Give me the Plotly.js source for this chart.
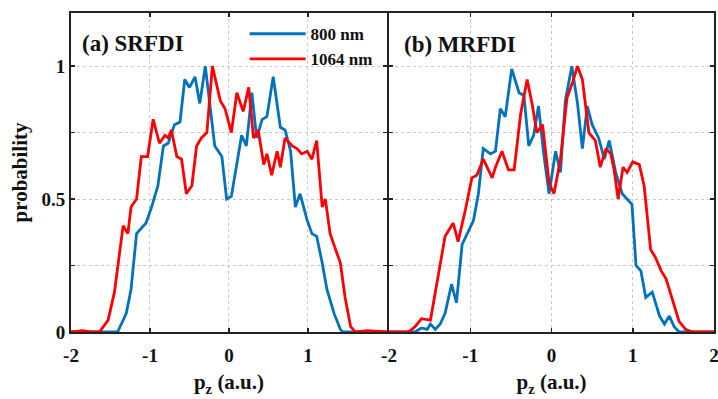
<!DOCTYPE html>
<html>
<head>
<meta charset="utf-8">
<script src="https://cdn.plot.ly/plotly-3.0.1.min.js"></script>
<style>
  html, body { margin: 0; padding: 0; background: #fff; }
  #chart { width: 718px; height: 399px; }
</style>
</head>
<body>
<div id="chart"></div>
<script>
// (a) SRFDI — momentum distributions p_z (a.u.)
const srfdiX800 = [-2, -1.60, -1.41, -1.30, -1.24, -1.17, -1.05, -0.98, -0.90, -0.83, -0.77, -0.69, -0.62, -0.56, -0.50, -0.43, -0.37, -0.30, -0.18, -0.09, -0.03, 0.03, 0.16, 0.22, 0.29, 0.35, 0.42, 0.48, 0.56, 0.65, 0.71, 0.78, 0.84, 0.90, 0.99, 1.05, 1.11, 1.18, 1.24, 1.33, 1.41, 1.44, 1.6, 2];
const srfdiY800 = [0, 0, 0, 0.07, 0.16, 0.37, 0.41, 0.47, 0.55, 0.70, 0.71, 0.78, 0.79, 0.95, 0.92, 0.96, 0.86, 1.0, 0.70, 0.66, 0.50, 0.51, 0.74, 0.70, 0.90, 0.73, 0.80, 0.81, 0.96, 0.77, 0.76, 0.68, 0.47, 0.52, 0.42, 0.37, 0.36, 0.26, 0.16, 0.07, 0.01, 0, 0, 0];
const srfdiX1064 = [-2, -1.85, -1.75, -1.64, -1.53, -1.45, -1.34, -1.28, -1.24, -1.17, -1.11, -1.03, -0.96, -0.88, -0.81, -0.77, -0.73, -0.66, -0.60, -0.54, -0.47, -0.41, -0.35, -0.28, -0.21, -0.11, -0.05, 0.03, 0.10, 0.18, 0.25, 0.31, 0.37, 0.44, 0.48, 0.54, 0.61, 0.65, 0.71, 0.80, 0.86, 0.92, 0.99, 1.05, 1.11, 1.18, 1.22, 1.28, 1.35, 1.41, 1.47, 1.54, 1.60, 1.75, 2];
const srfdiY1064 = [0, 0.005, 0, 0, 0.045, 0.15, 0.40, 0.37, 0.47, 0.50, 0.66, 0.66, 0.80, 0.71, 0.74, 0.73, 0.76, 0.66, 0.65, 0.52, 0.55, 0.70, 0.73, 0.75, 1.0, 0.87, 0.84, 0.75, 0.90, 0.83, 0.92, 0.73, 0.76, 0.63, 0.67, 0.59, 0.68, 0.62, 0.73, 0.70, 0.69, 0.67, 0.68, 0.65, 0.72, 0.47, 0.50, 0.37, 0.31, 0.26, 0.13, 0.02, 0, 0.005, 0];

// (b) MRFDI
const mrfdiX800 = [-2, -1.75, -1.68, -1.60, -1.53, -1.49, -1.43, -1.37, -1.31, -1.23, -1.17, -1.10, -1.04, -0.96, -0.90, -0.84, -0.75, -0.69, -0.63, -0.57, -0.49, -0.40, -0.34, -0.28, -0.22, -0.16, -0.10, -0.03, 0.05, 0.11, 0.17, 0.25, 0.32, 0.38, 0.44, 0.50, 0.58, 0.65, 0.71, 0.79, 0.87, 0.93, 0.99, 1.04, 1.10, 1.16, 1.24, 1.33, 1.39, 1.45, 1.51, 1.57, 1.7, 2];
const mrfdiY800 = [0, 0, 0, 0.015, 0.01, 0.03, 0.01, 0.03, 0.07, 0.18, 0.11, 0.33, 0.37, 0.42, 0.52, 0.69, 0.67, 0.68, 0.84, 0.81, 0.99, 0.90, 0.89, 0.70, 0.74, 0.85, 0.68, 0.52, 0.68, 0.60, 0.87, 1.0, 0.86, 0.69, 0.85, 0.78, 0.73, 0.65, 0.72, 0.60, 0.52, 0.50, 0.48, 0.25, 0.23, 0.13, 0.15, 0.06, 0.03, 0.06, 0.02, 0, 0, 0];
const mrfdiX1064 = [-2, -1.76, -1.68, -1.60, -1.49, -1.43, -1.37, -1.31, -1.21, -1.15, -1.06, -0.98, -0.92, -0.84, -0.73, -0.69, -0.61, -0.53, -0.46, -0.38, -0.30, -0.24, -0.18, -0.11, -0.03, 0.03, 0.11, 0.19, 0.26, 0.32, 0.38, 0.46, 0.54, 0.60, 0.67, 0.73, 0.77, 0.82, 0.88, 0.93, 1.00, 1.08, 1.14, 1.22, 1.28, 1.35, 1.41, 1.49, 1.57, 1.65, 1.73, 2];
const mrfdiY1064 = [0, 0, 0.02, 0.05, 0.045, 0.15, 0.27, 0.36, 0.41, 0.34, 0.46, 0.58, 0.59, 0.65, 0.58, 0.62, 0.68, 0.61, 0.61, 0.82, 0.95, 0.86, 0.75, 0.78, 0.56, 0.52, 0.65, 0.88, 0.94, 1.0, 0.95, 0.75, 0.72, 0.62, 0.69, 0.67, 0.61, 0.50, 0.62, 0.60, 0.64, 0.63, 0.55, 0.31, 0.28, 0.23, 0.20, 0.12, 0.04, 0.01, 0, 0];

// the shared edge at p_z = 2 / -2 is labelled once, by the right panel
const xTickVals = [-2, -1, 0, 1, 2];
const xTickTextA = ['-2', '-1', '0', '1', ''];
const xTickTextB = ['-2', '-1', '0', '1', '2'];
const yTickVals = [0, 0.25, 0.5, 0.75, 1];
const yTickText = ['0', '', '0.5', '', '1'];

const blue = '#0072BD';
const red = '#FF0000';
const serif = 'Liberation Serif, Times New Roman, serif';

const traces = [
  { x: srfdiX800, y: srfdiY800, name: '800 nm', mode: 'lines', line: { color: blue, width: 2.8 }, xaxis: 'x', yaxis: 'y' },
  { x: srfdiX1064, y: srfdiY1064, name: '1064 nm', mode: 'lines', line: { color: red, width: 2.8 }, xaxis: 'x', yaxis: 'y' },
  { x: mrfdiX800, y: mrfdiY800, name: '800 nm', mode: 'lines', line: { color: blue, width: 2.8 }, xaxis: 'x2', yaxis: 'y2', showlegend: false },
  { x: mrfdiX1064, y: mrfdiY1064, name: '1064 nm', mode: 'lines', line: { color: red, width: 2.8 }, xaxis: 'x2', yaxis: 'y2', showlegend: false }
];

function xAxis(domain, anchor, labels) {
  return {
    domain: domain, anchor: anchor, range: [-2, 2],
    tickmode: 'array', tickvals: xTickVals, ticktext: labels,
    ticks: 'inside', ticklen: 4, tickwidth: 1.5, tickcolor: '#222',
    showline: true, linecolor: '#222', linewidth: 2, mirror: 'ticks',
    showgrid: true, gridcolor: '#c8c8c8', gridwidth: 1, griddash: 'dot',
    zeroline: false, ticklabelstandoff: 5, ticklabeloverflow: 'allow',
    tickfont: { family: serif, size: 19, color: '#111', weight: 'bold' },
    title: { text: 'p<sub>z</sub> (a.u.)', font: { family: serif, size: 21, color: '#111', weight: 'bold' }, standoff: 10 }
  };
}
function yAxis(anchor, labels) {
  return {
    domain: [0, 1], anchor: anchor, range: [0, 1.2],
    tickmode: 'array', tickvals: yTickVals, ticktext: yTickText,
    showticklabels: labels,
    ticks: 'inside', ticklen: 4, tickwidth: 1.5, tickcolor: '#222',
    showline: true, linecolor: '#222', linewidth: 2, mirror: 'ticks',
    showgrid: true, gridcolor: '#c8c8c8', gridwidth: 1, griddash: 'dot',
    zeroline: false,
    tickfont: { family: serif, size: 19, color: '#111', weight: 'bold' }
  };
}

const layout = {
  width: 718, height: 399,
  margin: { l: 71, r: 4, t: 13, b: 67 },
  paper_bgcolor: '#fff', plot_bgcolor: '#fff',
  showlegend: true,
  legend: {
    x: 0.27, y: 0.99, xanchor: 'left', yanchor: 'top',
    bgcolor: 'rgba(0,0,0,0)', borderwidth: 0,
    font: { family: serif, size: 17, color: '#111', weight: 'bold' },
    itemwidth: 56, tracegroupgap: 0
  },
  xaxis: xAxis([0, 0.4914], 'y', xTickTextA),
  yaxis: Object.assign(yAxis('x', true), {
    title: { text: 'probability', font: { family: serif, size: 21, color: '#111', weight: 'bold' }, standoff: 8 }
  }),
  xaxis2: xAxis([0.4946, 1], 'y2', xTickTextB),
  yaxis2: yAxis('x2', false),
  annotations: [
    { text: '(a) SRFDI', xref: 'x domain', yref: 'y domain', x: 0.03, y: 0.905, xanchor: 'left', yanchor: 'middle', showarrow: false,
      font: { family: serif, size: 23, color: '#111', weight: 'bold' } },
    { text: '(b) MRFDI', xref: 'x2 domain', yref: 'y2 domain', x: 0.04, y: 0.9, xanchor: 'left', yanchor: 'middle', showarrow: false,
      font: { family: serif, size: 23, color: '#111', weight: 'bold' } }
  ]
};

Plotly.newPlot('chart', traces, layout, { displayModeBar: false, staticPlot: true });
</script>
</body>
</html>
